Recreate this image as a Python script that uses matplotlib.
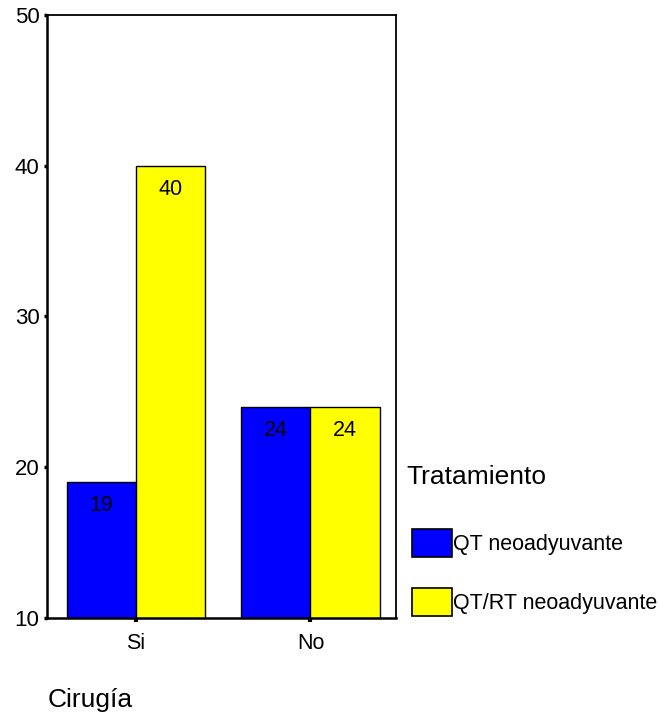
import matplotlib.pyplot as plt
from matplotlib.patches import Patch
import numpy as np

plt.rcParams['font.family'] = ['Liberation Sans', 'DejaVu Sans']

# Cirugía x Tratamiento counts
cirugia = ['Si', 'No']
qt_neo = [19, 24]
qtrt_neo = [40, 24]
series_names = ['QT neoadyuvante', 'QT/RT neoadyuvante']
colors = ['#0000ff', '#ffff00']
yticks = [10, 20, 30, 40, 50]

W, H = 659, 723
fig = plt.figure(figsize=(W / 100, H / 100), dpi=100)
ax = fig.add_axes([47 / W, 1 - 618 / H, (396 - 47) / W, (618 - 15) / H])

x = np.arange(len(cirugia))
bw = 0.397
for vals, col, off in [(qt_neo, colors[0], -bw / 2), (qtrt_neo, colors[1], bw / 2)]:
    bars = ax.bar(x + off, vals, width=bw, color=col, edgecolor='black', linewidth=1.0)
    for b, v in zip(bars, vals):
        ax.annotate(str(v), (b.get_x() + b.get_width() / 2, v), xytext=(0, -17),
                    textcoords='offset points', ha='center', va='center', fontsize=15.5)

ax.set_xlim(-0.51, 1.49)
ax.set_ylim(10, 50)
ax.set_xticks(x)
ax.set_xticklabels(cirugia, fontsize=15.5)
ax.set_yticks(yticks)
ax.set_yticklabels([str(t) for t in yticks], fontsize=16)
ax.tick_params(axis='y', direction='out', length=2.5, width=2.5, pad=3)
ax.tick_params(axis='x', direction='out', length=3, width=3, pad=8)

for side in ['left', 'bottom']:
    ax.spines[side].set_linewidth(1.8)
for side in ['top', 'right']:
    ax.spines[side].set_linewidth(1.3)

fig.text(48 / W, 1 - 700 / H, 'Cirugía', fontsize=19, va='center', ha='left')
fig.text(406 / W, 1 - 477 / H, 'Tratamiento', fontsize=19, va='center', ha='left')

handles = [Patch(facecolor=c, edgecolor='black', linewidth=1.2) for c in colors]
fig.legend(handles, series_names, loc='upper left', bbox_to_anchor=(412 / W, 1 - 529 / H),
           frameon=False, fontsize=15.5, handlelength=1.85, handleheight=1.6,
           handletextpad=0.05, labelspacing=1.45, borderpad=0, borderaxespad=0)

fig.savefig('out.png', dpi=100)
